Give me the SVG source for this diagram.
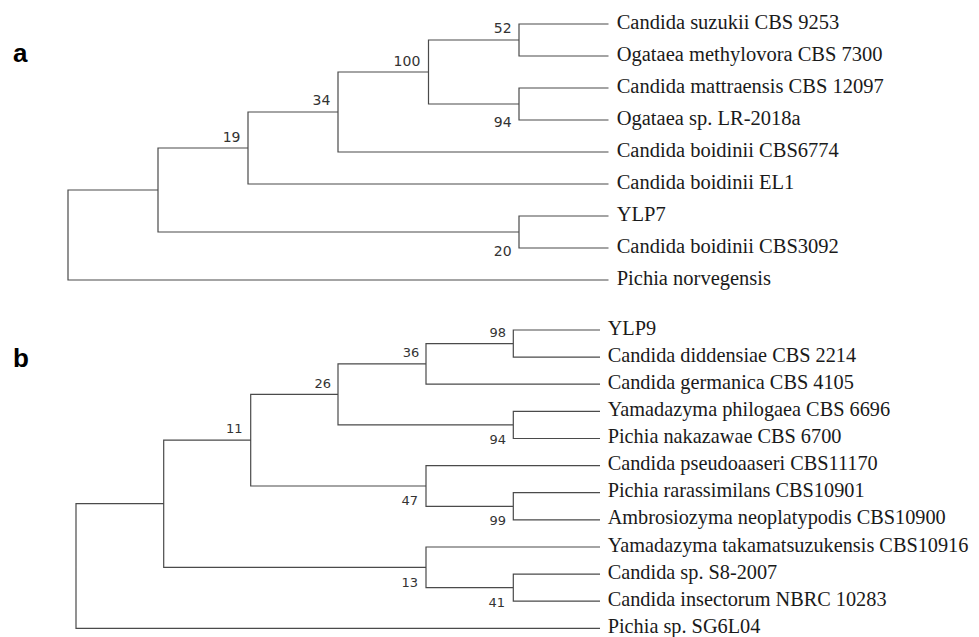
<svg xmlns="http://www.w3.org/2000/svg" width="979" height="637" viewBox="0 0 979 637">
<style>
.br{fill:none;stroke:#4a4a4a;stroke-width:1.2}
.leaf{font-family:"Liberation Serif","Times New Roman",serif;font-size:20.5px;fill:#1a1a1a}
.lb{font-size:20.3px}
.bs{font-family:"DejaVu Sans",Verdana,sans-serif;fill:#333;text-anchor:end}
.bsa{font-size:14px}
.bsb{font-size:13px}
.panel{font-family:"Liberation Sans",Arial,sans-serif;font-weight:bold;font-size:26px;fill:#000}
</style>
<rect width="979" height="637" fill="#fff"/>
<text class="panel" x="13" y="61.5">a</text>
<text class="panel" x="13" y="367">b</text>
<g id="connectors">
<path class="br" d="M68 235V190H158M68 235V280H608.5M158 190V148H248M158 190V232H519M248 148V112H338M248 148V184H608.5M338 112V72H428.5M338 112V152H608.5M428.5 72V40H519M428.5 72V104H519M519 40V24H608.5M519 40V56H608.5M519 104V88H608.5M519 104V120H608.5M519 232V216H608.5M519 232V248H608.5"/>
<path class="br" d="M76 566V503.7H163.7M76 566V628.3H600M163.7 503.7V440.2H250.7M163.7 503.7V567.3H426M250.7 440.2V394.4H338M250.7 440.2V486H426M338 394.4V363.9H426M338 394.4V424.9H513.3M426 363.9V343.6H513.3M426 363.9V384.2H600M513.3 343.6V330H600M513.3 343.6V357.1H600M513.3 424.9V411.4H600M513.3 424.9V438.5H600M426 486V465.6H600M426 486V506.3H513.3M513.3 506.3V492.7H600M513.3 506.3V519.8H600M426 567.3V547H600M426 567.3V587.6H513.3M513.3 587.6V574.1H600M513.3 587.6V601.2H600"/>
</g>
<g id="tree-a">
<g id="a-leaf-0"><text class="leaf" x="616.7" y="29">Candida suzukii CBS 9253</text></g>
<g id="a-leaf-1"><text class="leaf" x="616.7" y="61">Ogataea methylovora CBS 7300</text></g>
<g id="a-leaf-2"><text class="leaf" x="616.7" y="93">Candida mattraensis CBS 12097</text></g>
<g id="a-leaf-3"><text class="leaf" x="616.7" y="125">Ogataea sp. LR-2018a</text></g>
<g id="a-leaf-4"><text class="leaf" x="616.7" y="157">Candida boidinii CBS6774</text></g>
<g id="a-leaf-5"><text class="leaf" x="616.7" y="189">Candida boidinii EL1</text></g>
<g id="a-leaf-6"><text class="leaf" x="616.7" y="221">YLP7</text></g>
<g id="a-leaf-7"><text class="leaf" x="616.7" y="253">Candida boidinii CBS3092</text></g>
<g id="a-leaf-8"><text class="leaf" x="616.7" y="285">Pichia norvegensis</text></g>
<g id="a-node-52"><text class="bs bsa" x="511.7" y="33.3">52</text></g>
<g id="a-node-94"><text class="bs bsa" x="511.7" y="127.3">94</text></g>
<g id="a-node-100"><text class="bs bsa" x="420.3" y="66">100</text></g>
<g id="a-node-34"><text class="bs bsa" x="330.3" y="105">34</text></g>
<g id="a-node-19"><text class="bs bsa" x="240.5" y="141.7">19</text></g>
<g id="a-node-20"><text class="bs bsa" x="511.7" y="256">20</text></g>
</g>
<g id="tree-b">
<g id="b-leaf-0"><text class="leaf lb" x="607.7" y="334.5">YLP9</text></g>
<g id="b-leaf-1"><text class="leaf lb" x="607.7" y="361.6">Candida diddensiae CBS 2214</text></g>
<g id="b-leaf-2"><text class="leaf lb" x="607.7" y="388.7">Candida germanica CBS 4105</text></g>
<g id="b-leaf-3"><text class="leaf lb" x="607.7" y="415.9">Yamadazyma philogaea CBS 6696</text></g>
<g id="b-leaf-4"><text class="leaf lb" x="607.7" y="443">Pichia nakazawae CBS 6700</text></g>
<g id="b-leaf-5"><text class="leaf lb" x="607.7" y="470.1">Candida pseudoaaseri CBS11170</text></g>
<g id="b-leaf-6"><text class="leaf lb" x="607.7" y="497.2">Pichia rarassimilans CBS10901</text></g>
<g id="b-leaf-7"><text class="leaf lb" x="607.7" y="524.3">Ambrosiozyma neoplatypodis CBS10900</text></g>
<g id="b-leaf-8"><text class="leaf lb" x="607.7" y="551.5">Yamadazyma takamatsuzukensis CBS10916</text></g>
<g id="b-leaf-9"><text class="leaf lb" x="607.7" y="578.6">Candida sp. S8-2007</text></g>
<g id="b-leaf-10"><text class="leaf lb" x="607.7" y="605.7">Candida insectorum NBRC 10283</text></g>
<g id="b-leaf-11"><text class="leaf lb" x="607.7" y="632.8">Pichia sp. SG6L04</text></g>
<g id="b-node-98"><text class="bs bsb" x="506" y="337.3">98</text></g>
<g id="b-node-36"><text class="bs bsb" x="419.3" y="357.3">36</text></g>
<g id="b-node-26"><text class="bs bsb" x="331" y="387.7">26</text></g>
<g id="b-node-11"><text class="bs bsb" x="242.5" y="433.3">11</text></g>
<g id="b-node-94"><text class="bs bsb" x="506" y="444">94</text></g>
<g id="b-node-47"><text class="bs bsb" x="418" y="505">47</text></g>
<g id="b-node-99"><text class="bs bsb" x="506" y="525">99</text></g>
<g id="b-node-13"><text class="bs bsb" x="418" y="586.7">13</text></g>
<g id="b-node-41"><text class="bs bsb" x="505" y="606.7">41</text></g>
</g>
</svg>
